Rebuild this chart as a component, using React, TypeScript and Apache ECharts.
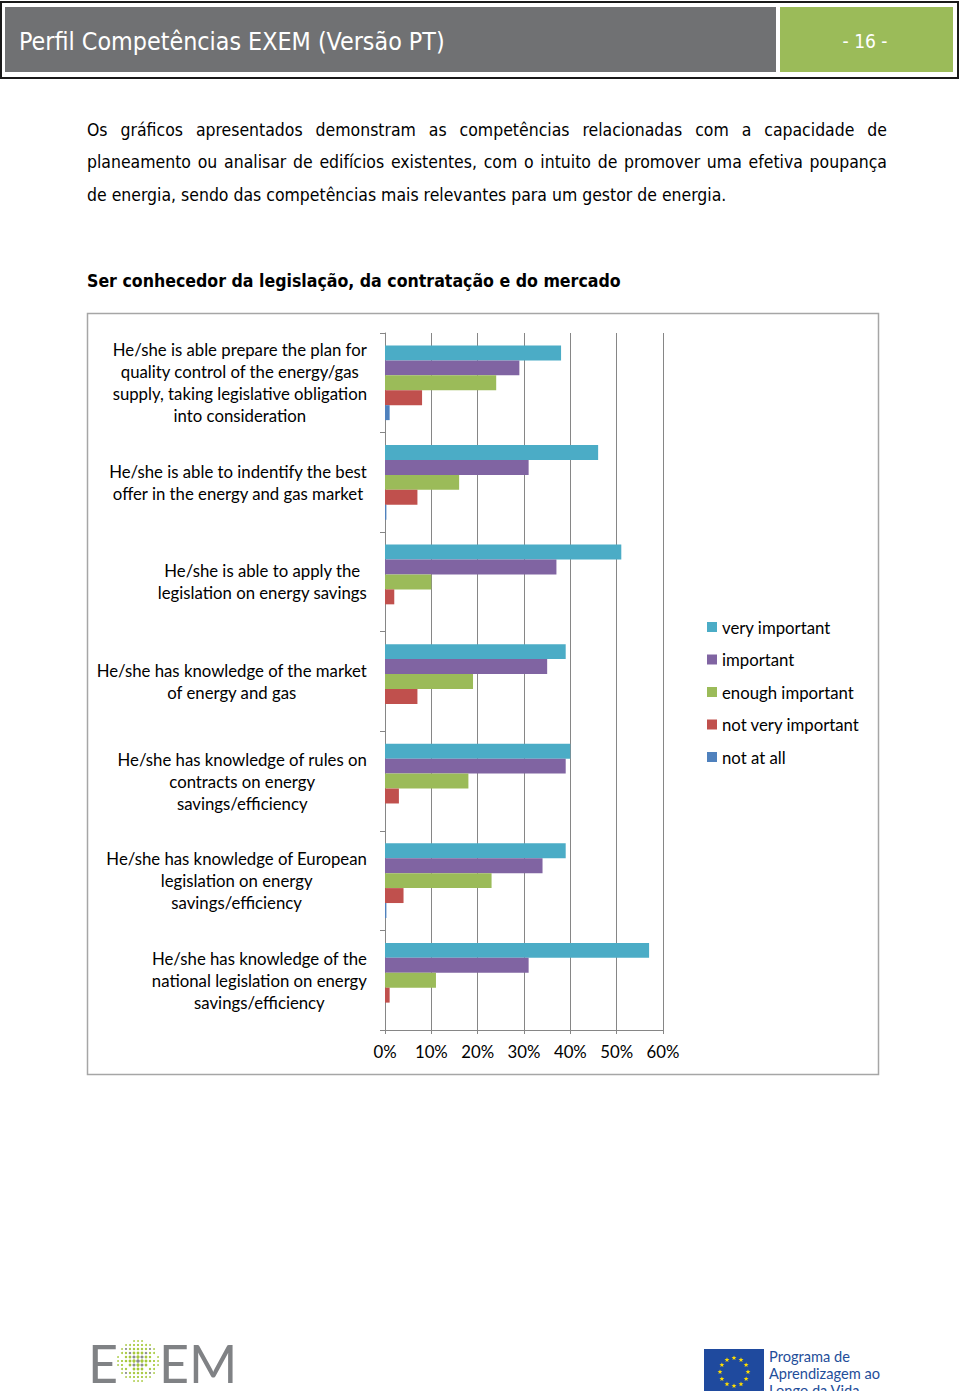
import React, { useEffect, useRef } from "react";
import * as echarts from "echarts";

const categories = [
  "He/she is able prepare the plan for\nquality control of the energy/gas\nsupply, taking legislative obligation\ninto consideration",
  "He/she is able to indentify the best\noffer in the energy and gas market",
  "He/she is able to apply the\nlegislation on energy savings",
  "He/she has knowledge of the market\nof energy and gas",
  "He/she has knowledge of rules on\ncontracts on energy\nsavings/efficiency",
  "He/she has knowledge of European\nlegislation on energy\nsavings/efficiency",
  "He/she has knowledge of the\nnational legislation on energy\nsavings/efficiency",
];
const seriesNames = ["very important", "important", "enough important", "not very important", "not at all"];
const veryImportant = [38, 46, 51, 39, 40, 39, 57];
const important = [29, 31, 37, 35, 39, 34, 31];
const enoughImportant = [24, 16, 10, 19, 18, 23, 11];
const notVeryImportant = [8, 7, 2, 7, 3, 4, 1];
const notAtAll = [1, 0.3, 0, 0, 0, 0.3, 0];
const seriesValues = [veryImportant, important, enoughImportant, notVeryImportant, notAtAll];
const seriesColors = ["#4bacc6", "#8064a2", "#9bbb59", "#c0504d", "#4f81bd"];
const axisMin = 0;
const axisMax = 60;
const axisStep = 10;

const headerTitle = "Perfil Competências EXEM (Versão PT)";
const pageNumber = "- 16 -";
const paragraphLines = [
  "Os gráficos apresentados demonstram as competências relacionadas com a capacidade de",
  "planeamento ou analisar de edifícios existentes, com o intuito de promover uma efetiva poupança",
  "de energia, sendo das competências mais relevantes para um gestor de energia.",
];
const heading = "Ser conhecedor da legislação, da contratação e do mercado";
const euLines = ["Programa de", "Aprendizagem ao", "Longo da Vida"];

const PARA_FAMILY = '"DejaVu Sans Condensed", "DejaVu Sans", sans-serif';
const LABEL_FAMILY = 'Lato, "Open Sans", sans-serif';

let measureCtx: CanvasRenderingContext2D | null = null;
function textWidth(text: string, size: number, family: string, weight = "normal") {
  if (!measureCtx) measureCtx = document.createElement("canvas").getContext("2d");
  measureCtx!.font = `${weight} ${size}px ${family}`;
  return measureCtx!.measureText(text).width;
}
function fitFont(text: string, target: number, family: string, weight = "normal") {
  return (20 * target) / textWidth(text, 20, family, weight);
}

function justified(line: string, size: number, family: string, x0: number, x1: number, y: number) {
  const words = line.split(" ");
  const widths = words.map((w) => textWidth(w, size, family));
  const total = widths.reduce((a, b) => a + b, 0);
  const gap = (x1 - x0 - total) / (words.length - 1);
  let x = x0;
  return words.map((w, i) => {
    const el = {
      type: "text",
      x,
      y,
      style: { text: w, fontSize: size, fontFamily: family, fill: "#000", align: "left", verticalAlign: "middle" },
    };
    x += widths[i] + gap;
    return el;
  });
}

function starPoints(cx: number, cy: number, R: number) {
  const pts: number[][] = [];
  for (let k = 0; k < 10; k++) {
    const r = k % 2 === 0 ? R : R * 0.42;
    const a = -Math.PI / 2 + (k * Math.PI) / 5;
    pts.push([cx + r * Math.cos(a), cy + r * Math.sin(a)]);
  }
  return pts;
}

export default function App() {
  const ref = useRef<HTMLDivElement>(null);
  useEffect(() => {
    if (!ref.current) return;
    const chart = echarts.init(ref.current, undefined, { renderer: "svg" });

    const paraSize = fitFont(paragraphLines[2], 640, PARA_FAMILY);
    const titleSize = fitFont(headerTitle, 426, PARA_FAMILY);
    const headSize = fitFont(heading, 534, PARA_FAMILY, "bold");
    const labelSize = fitFont("He/she is able prepare the plan for", 254, LABEL_FAMILY);
    const euSize = fitFont(euLines[1], 111, LABEL_FAMILY);

    const graphics: any[] = [];
    // header
    graphics.push({ type: "rect", shape: { x: 1, y: 2, width: 957, height: 76 }, style: { fill: "#fff", stroke: "#1a1a1a", lineWidth: 2 } });
    graphics.push({ type: "rect", shape: { x: 5, y: 7, width: 771, height: 65 }, style: { fill: "#707173" } });
    graphics.push({ type: "rect", shape: { x: 780, y: 7, width: 173, height: 65 }, style: { fill: "#9bbb59" } });
    graphics.push({ type: "text", x: 19, y: 41, style: { text: headerTitle, fontSize: titleSize, fontFamily: PARA_FAMILY, fill: "#fff", align: "left", verticalAlign: "middle" } });
    graphics.push({ type: "text", x: 865, y: 41, style: { text: pageNumber, fontSize: 19, fontFamily: PARA_FAMILY, fill: "#fff", align: "center", verticalAlign: "middle" } });
    // paragraph
    graphics.push(...justified(paragraphLines[0], paraSize, PARA_FAMILY, 87, 887, 129.5));
    graphics.push(...justified(paragraphLines[1], paraSize, PARA_FAMILY, 87, 887, 162));
    graphics.push({ type: "text", x: 87, y: 194.5, style: { text: paragraphLines[2], fontSize: paraSize, fontFamily: PARA_FAMILY, fill: "#000", align: "left", verticalAlign: "middle" } });
    // heading
    graphics.push({ type: "text", x: 87, y: 281, style: { text: heading, fontSize: headSize, fontWeight: "bold", fontFamily: PARA_FAMILY, fill: "#000", align: "left", verticalAlign: "middle" } });
    // chart frame
    graphics.push({ type: "rect", z: -1, shape: { x: 87.5, y: 313.5, width: 791, height: 761 }, style: { fill: "none", stroke: "#a6a6a6", lineWidth: 1.5 } });
    // EXEM logo
    graphics.push({ type: "text", x: 88, y: 1363, style: { text: "E", fontSize: 52, lineHeight: 44, fontFamily: LABEL_FAMILY, fill: "#808285", align: "left", verticalAlign: "middle" } });
    graphics.push({ type: "text", x: 159, y: 1363, style: { text: "EM", fontSize: 52, lineHeight: 44, fontFamily: LABEL_FAMILY, fill: "#808285", align: "left", verticalAlign: "middle" } });
    for (let i = -5; i <= 5; i++) {
      for (let j = -5; j <= 5; j++) {
        const dx = i * 4;
        const dy = j * 4;
        const d = Math.hypot(dx, dy);
        if (d > 21) continue;
        const onX = i === j || i === -j;
        graphics.push({ type: "circle", shape: { cx: 138 + dx, cy: 1361 + dy, r: 0.6 + 1.2 * (1 - d / 26) }, style: { fill: onX ? "#8a8c8e" : "#a5c83a" } });
      }
    }
    // EU logo
    graphics.push({ type: "rect", shape: { x: 704, y: 1349, width: 60, height: 42 }, style: { fill: "#1f4a9e" } });
    for (let k = 0; k < 12; k++) {
      const a = (k * Math.PI) / 6;
      graphics.push({ type: "polygon", shape: { points: starPoints(734 + 14 * Math.cos(a), 1372 + 14 * Math.sin(a), 2.6) }, style: { fill: "#ffdd00" } });
    }
    euLines.forEach((t, i) => {
      graphics.push({ type: "text", x: 769, y: 1356 + i * 17, style: { text: t, fontSize: euSize, fontFamily: LABEL_FAMILY, fill: "#1f4e9a", align: "left", verticalAlign: "middle" } });
    });

    const grey = "#868686";
    const option: any = {
      animation: false,
      backgroundColor: "#fff",
      color: seriesColors,
      grid: { left: 385, top: 333, width: 278, height: 697, outerBoundsMode: "none" },
      legend: {
        orient: "vertical",
        left: 702,
        top: 612,
        itemWidth: 10,
        itemHeight: 10,
        itemGap: 12.5,
        icon: "rect",
        textStyle: { fontFamily: LABEL_FAMILY, fontSize: labelSize, color: "#000", lineHeight: 20 },
        data: seriesNames,
      },
      xAxis: {
        type: "value",
        min: axisMin,
        max: axisMax,
        interval: axisStep,
        axisLine: { show: true, lineStyle: { color: grey, width: 1 } },
        axisTick: { show: true, length: 4, lineStyle: { color: grey } },
        splitLine: { show: true, lineStyle: { color: grey, width: 1 } },
        axisLabel: { formatter: "{value}%", fontFamily: LABEL_FAMILY, fontSize: labelSize, color: "#000", margin: 13 },
      },
      yAxis: {
        type: "category",
        inverse: true,
        data: categories,
        axisLine: { show: true, lineStyle: { color: grey, width: 1 } },
        axisTick: { show: true, length: 5, lineStyle: { color: grey } },
        splitLine: { show: false },
        axisLabel: {
          margin: 18,
          fontFamily: LABEL_FAMILY,
          fontSize: labelSize,
          color: "#000",
          lineHeight: 22,
          formatter: (v: string) => v.split("\n").map((l) => `{c|${l}}`).join("\n"),
          rich: { c: { align: "center", fontFamily: LABEL_FAMILY, fontSize: labelSize, color: "#000", lineHeight: 22 } },
        },
      },
      series: seriesValues.map((d, i) => ({
        type: "bar",
        name: seriesNames[i],
        data: d,
        barGap: "0%",
        barCategoryGap: "25%",
        itemStyle: { color: seriesColors[i] },
      })),
      graphic: graphics,
    };
    chart.setOption(option);
    return () => chart.dispose();
  }, []);
  return <div ref={ref} style={{ position: "absolute", left: 0, top: 0, width: 960, height: 1391 }} />;
}
